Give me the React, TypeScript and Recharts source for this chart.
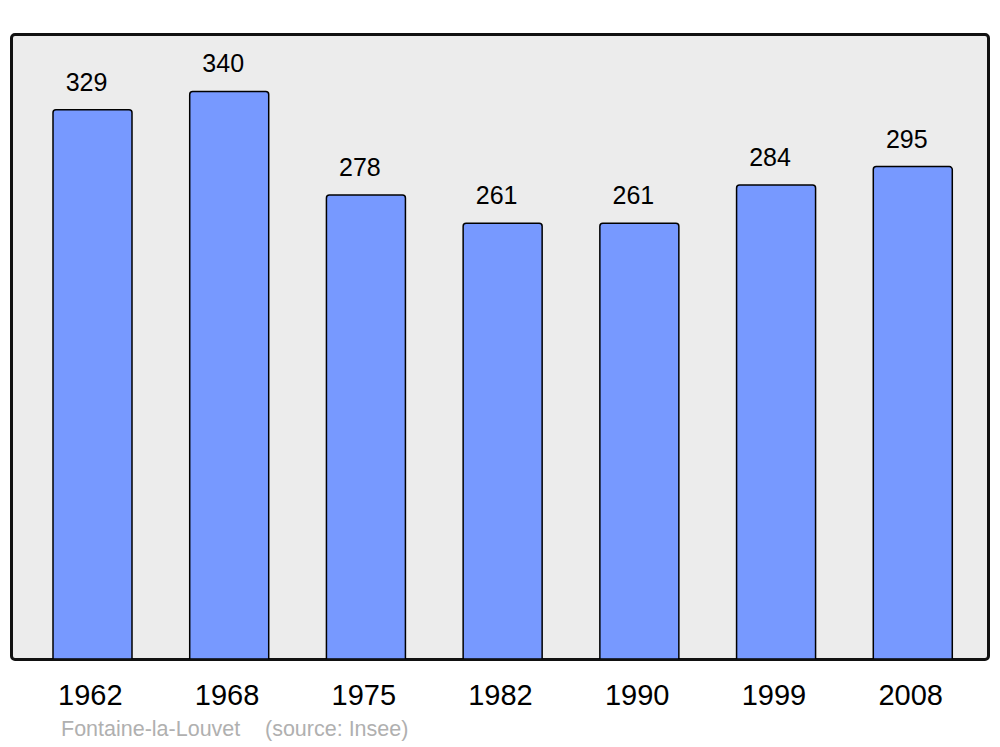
import React from "react";
import { BarChart, Bar, XAxis, YAxis, LabelList } from "recharts";

const years = ["1962", "1968", "1975", "1982", "1990", "1999", "2008"];
const population = [329, 340, 278, 261, 261, 284, 295];

const data = years.map((year, i) => ({ year, population: population[i] }));

const FONT = "'Liberation Sans', Arial, sans-serif";

const RenderTick = (tickProps: any) => {
  const { x, y, payload } = tickProps;
  return (
    <text x={x - 2} y={y + 38} fontSize={29} fontFamily={FONT} fill="#000" textAnchor="middle">
      {payload.value}
    </text>
  );
};

const ValueLabel = (props: any) => {
  const { x, y, width, value } = props;
  return (
    <text
      x={x + width / 2 - 6}
      y={y - 19}
      fontSize={25}
      fontFamily={FONT}
      fill="#000"
      textAnchor="middle"
    >
      {value}
    </text>
  );
};

const App = () => {
  return (
    <div style={{ position: "absolute", left: 0, top: 0, width: 1000, height: 747, background: "#fff" }}>
      <div
        style={{
          position: "absolute",
          left: 10,
          top: 33,
          width: 980,
          height: 628,
          boxSizing: "border-box",
          border: "3px solid #111",
          borderRadius: 5,
          background: "#ececec",
        }}
      />
      <div style={{ position: "absolute", left: 0, top: 0 }}>
        <BarChart
          width={1000}
          height={747}
          data={data}
          margin={{ top: 34, right: 11, left: 11, bottom: 28 }}
        >
          <XAxis
            dataKey="year"
            axisLine={false}
            tickLine={false}
            height={60}
            padding={{ left: 13, right: 8 }}
            tick={<RenderTick />}
            interval={0}
          />
          <YAxis hide domain={[0, 374.4]} allowDataOverflow />
          <Bar
            dataKey="population"
            fill="#7799ff"
            stroke="#000"
            strokeWidth={1.5}
            barSize={79}
            radius={[3, 3, 0, 0]}
            isAnimationActive={false}
          >
            <LabelList dataKey="population" content={<ValueLabel />} />
          </Bar>
        </BarChart>
      </div>
      <div
        style={{
          position: "absolute",
          left: 61,
          top: 719,
          fontFamily: FONT,
          fontSize: 21.5,
          lineHeight: 1,
          color: "#b0b0b0",
          whiteSpace: "pre",
        }}
      >
        Fontaine-la-Louvet
      </div>
      <div
        style={{
          position: "absolute",
          left: 265,
          top: 719,
          fontFamily: FONT,
          fontSize: 21.5,
          lineHeight: 1,
          color: "#b0b0b0",
          whiteSpace: "pre",
        }}
      >
        (source: Insee)
      </div>
    </div>
  );
};

export default App;
